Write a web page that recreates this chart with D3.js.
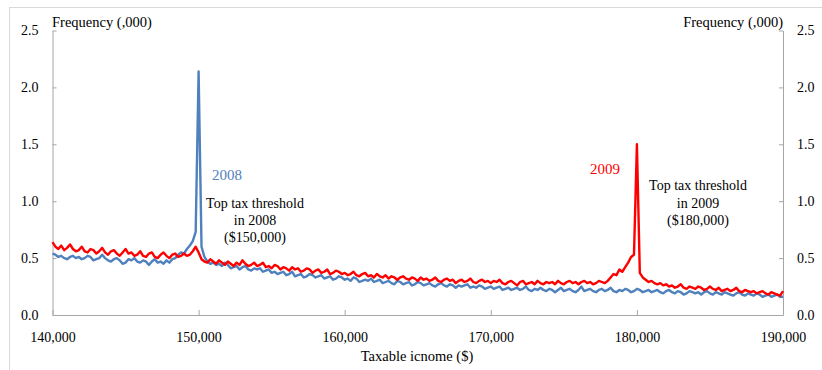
<!DOCTYPE html>
<html>
<head>
<meta charset="utf-8">
<script src="https://cdn.jsdelivr.net/npm/d3@7/dist/d3.min.js"></script>
<style>
html,body{margin:0;padding:0;background:#fff;}
svg{display:block;}
text{font-family:"Liberation Serif","Times New Roman",serif;}
</style>
</head>
<body>
<svg id="chart" width="822" height="370"></svg>
<script>
// Taxable income bins ($200 wide), starting value and step
const binStart = 140000;
const binStep = 200;
const xTickValues = [140000, 150000, 160000, 170000, 180000, 190000];
const yTickValues = [0, 0.5, 1.0, 1.5, 2.0, 2.5];
const seriesNames = ["2008", "2009"];

// Frequency (,000) for 2008
const freq2008 = [
0.54,0.53,0.51,0.52,0.50,0.49,0.51,0.52,0.50,0.51,
0.49,0.50,0.52,0.51,0.48,0.49,0.50,0.53,0.50,0.48,
0.47,0.49,0.50,0.48,0.45,0.46,0.49,0.48,0.50,0.47,
0.46,0.48,0.47,0.44,0.47,0.49,0.46,0.47,0.45,0.48,
0.46,0.49,0.50,0.53,0.55,0.54,0.58,0.61,0.65,0.73,
2.14,0.60,0.51,0.47,0.45,0.46,0.44,0.45,0.43,0.46,
0.44,0.41,0.42,0.43,0.40,0.42,0.43,0.40,0.39,0.41,
0.40,0.41,0.38,0.39,0.40,0.37,0.38,0.36,0.37,0.38,
0.35,0.36,0.38,0.34,0.35,0.36,0.33,0.34,0.36,0.35,
0.33,0.34,0.35,0.32,0.33,0.34,0.31,0.32,0.34,0.33,
0.31,0.32,0.30,0.33,0.32,0.29,0.30,0.31,0.30,0.32,
0.29,0.30,0.31,0.28,0.29,0.30,0.28,0.27,0.30,0.29,
0.27,0.28,0.29,0.26,0.27,0.29,0.28,0.26,0.27,0.28,
0.26,0.25,0.27,0.28,0.26,0.25,0.27,0.26,0.24,0.26,
0.25,0.26,0.27,0.24,0.25,0.24,0.26,0.25,0.23,0.24,
0.25,0.23,0.24,0.25,0.22,0.23,0.24,0.22,0.23,0.24,
0.22,0.23,0.25,0.22,0.21,0.23,0.22,0.24,0.22,0.21,
0.23,0.22,0.20,0.22,0.24,0.21,0.22,0.23,0.21,0.20,
0.22,0.25,0.21,0.22,0.23,0.21,0.20,0.22,0.23,0.21,
0.22,0.24,0.21,0.20,0.22,0.21,0.23,0.22,0.20,0.21,
0.23,0.22,0.20,0.21,0.22,0.20,0.21,0.22,0.20,0.19,
0.21,0.22,0.20,0.19,0.21,0.20,0.18,0.19,0.21,0.20,
0.19,0.20,0.18,0.20,0.21,0.19,0.18,0.20,0.19,0.18,
0.20,0.19,0.18,0.17,0.19,0.20,0.18,0.17,0.19,0.18,
0.17,0.19,0.18,0.16,0.17,0.18,0.16,0.17,0.18,0.16,
0.16];

// Frequency (,000) for 2009
const freq2009 = [
0.64,0.60,0.58,0.61,0.57,0.59,0.62,0.58,0.56,0.57,
0.60,0.56,0.55,0.58,0.57,0.54,0.56,0.59,0.55,0.53,
0.56,0.57,0.54,0.52,0.55,0.58,0.54,0.55,0.52,0.53,
0.56,0.52,0.51,0.54,0.55,0.51,0.50,0.53,0.55,0.52,
0.50,0.53,0.54,0.51,0.52,0.54,0.52,0.53,0.56,0.60,
0.55,0.49,0.47,0.46,0.49,0.47,0.45,0.48,0.46,0.44,
0.47,0.45,0.43,0.46,0.44,0.48,0.45,0.43,0.44,0.46,
0.43,0.44,0.46,0.42,0.43,0.41,0.44,0.43,0.40,0.42,
0.41,0.39,0.42,0.40,0.41,0.38,0.39,0.41,0.40,0.37,
0.39,0.40,0.37,0.38,0.40,0.36,0.37,0.39,0.38,0.36,
0.37,0.35,0.36,0.38,0.35,0.34,0.36,0.37,0.34,0.35,
0.33,0.36,0.34,0.33,0.35,0.32,0.34,0.33,0.31,0.33,
0.34,0.32,0.31,0.33,0.32,0.30,0.33,0.31,0.32,0.30,
0.31,0.33,0.30,0.29,0.31,0.32,0.30,0.31,0.28,0.30,
0.31,0.29,0.30,0.32,0.29,0.28,0.30,0.31,0.29,0.30,
0.28,0.30,0.29,0.31,0.28,0.27,0.29,0.30,0.28,0.26,
0.29,0.30,0.27,0.28,0.29,0.27,0.30,0.28,0.27,0.29,
0.28,0.29,0.27,0.30,0.28,0.27,0.29,0.30,0.28,0.29,
0.27,0.29,0.30,0.28,0.29,0.27,0.28,0.30,0.29,0.28,
0.30,0.33,0.36,0.35,0.40,0.38,0.42,0.46,0.51,0.53,
1.50,0.37,0.33,0.31,0.29,0.30,0.28,0.27,0.28,0.26,
0.27,0.25,0.26,0.24,0.25,0.27,0.24,0.23,0.25,0.24,
0.23,0.25,0.24,0.22,0.23,0.25,0.23,0.22,0.24,0.21,
0.22,0.23,0.21,0.22,0.24,0.21,0.20,0.22,0.21,0.20,
0.21,0.19,0.20,0.21,0.19,0.18,0.20,0.19,0.18,0.17,
0.21];

const svg = d3.select("#chart");

// outer chart border
svg.append("rect").attr("x",9.5).attr("y",7.5).attr("width",840).attr("height",400)
  .attr("fill","none").attr("stroke","#d9d9d9").attr("stroke-width",1);

const x = d3.scaleLinear().domain([140000,190000]).range([52.5,783]);
const y = d3.scaleLinear().domain([0,2.5]).range([315,30.5]);

const axisColor = "#a6a6a6";
const fs = 14;

function styleAxis(g){
  g.selectAll("path").attr("stroke",axisColor);
  g.selectAll("line").attr("stroke",axisColor);
  g.selectAll("text").attr("fill","#000").style("font-size",fs+"px")
    .style("font-family",'"Liberation Serif","Times New Roman",serif');
}

const yFmt = d3.format(".1f");
const gl = svg.append("g").attr("transform","translate(52.5,0)")
  .call(d3.axisLeft(y).tickValues(yTickValues).tickFormat(yFmt).tickSizeInner(-4).tickSizeOuter(0).tickPadding(14));
styleAxis(gl);
const gr = svg.append("g").attr("transform","translate(783,0)")
  .call(d3.axisRight(y).tickValues(yTickValues).tickFormat(yFmt).tickSizeInner(-4).tickSizeOuter(0).tickPadding(14));
styleAxis(gr);
const gb = svg.append("g").attr("transform","translate(0,315)")
  .call(d3.axisBottom(x).tickValues(xTickValues).tickFormat(d3.format(",")).tickSizeInner(-5).tickSizeOuter(0).tickPadding(17));
styleAxis(gb);

// lines
const colors = {"2008":"#4f81bd","2009":"#ff0000"};
const line = d3.line().x((d,i)=>x(binStart+i*binStep)).y(d=>y(d));
[["2008",freq2008],["2009",freq2009]].forEach(([name,vals])=>{
  svg.append("path").datum(vals).attr("d",line)
    .attr("fill","none").attr("stroke",colors[name]).attr("stroke-width",2.4)
    .attr("stroke-linejoin","round");
});

// axis titles
svg.append("text").attr("x",52).attr("y",27).style("font-size","14.5px").text("Frequency (,000)");
svg.append("text").attr("x",783).attr("y",27).attr("text-anchor","end").style("font-size","14.5px").text("Frequency (,000)");
svg.append("text").attr("x",417).attr("y",361).attr("text-anchor","middle").style("font-size","14.5px").text("Taxable icnome ($)");

// annotations
svg.append("text").attr("x",227).attr("y",180).attr("text-anchor","middle").attr("fill",colors["2008"]).style("font-size","15px").text(seriesNames[0]);
svg.append("text").attr("x",605).attr("y",174).attr("text-anchor","middle").attr("fill",colors["2009"]).style("font-size","15px").text(seriesNames[1]);

const ann1 = ["Top tax threshold","in 2008","($150,000)"];
ann1.forEach((t,i)=>svg.append("text").attr("x",255).attr("y",208+i*17).attr("text-anchor","middle").style("font-size","14px").text(t));
const ann2 = ["Top tax threshold","in 2009","($180,000)"];
ann2.forEach((t,i)=>svg.append("text").attr("x",698).attr("y",190+i*17.5).attr("text-anchor","middle").style("font-size","14px").text(t));
</script>
</body>
</html>
